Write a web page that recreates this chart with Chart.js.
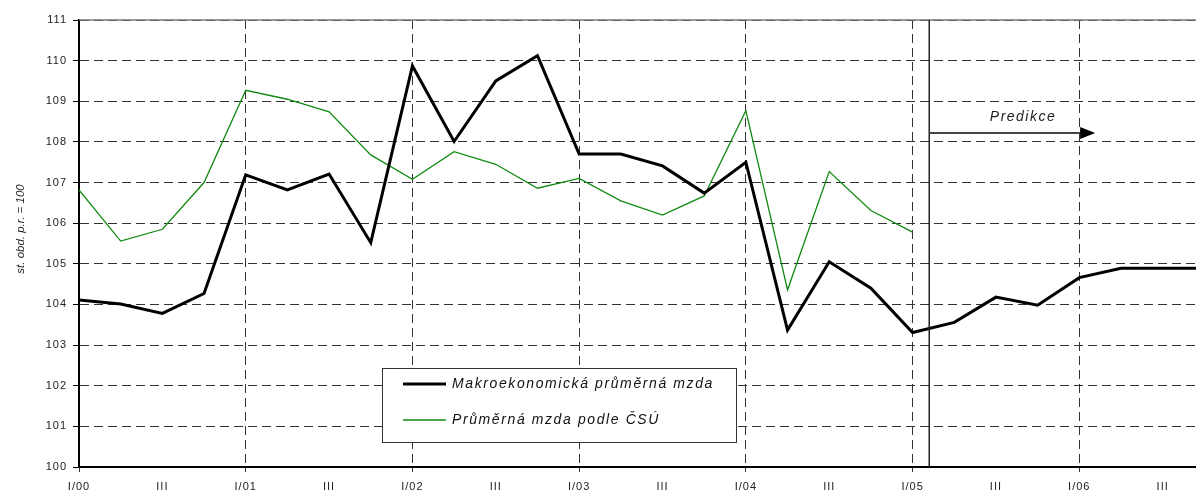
<!DOCTYPE html>
<html lang="cs">
<head>
  <meta charset="UTF-8" />
  <title>Průměrná mzda</title>
  <script src="https://cdn.jsdelivr.net/npm/chart.js"></script>
  <style>
    html, body { margin: 0; padding: 0; background: #fff; }
    #wrap { width: 1196px; height: 492px; }
  </style>
</head>
<body>
  <div id="wrap"><canvas id="graf" width="1196" height="492"></canvas></div>

  <script>
    // ctvrtleti I/00 .. IV/06 (index 0..27)
    const xTickLabels = ['I/00', 'III', 'I/01', 'III', 'I/02', 'III', 'I/03', 'III',
                         'I/04', 'III', 'I/05', 'III', 'I/06', 'III'];

    // Makroekonomicka prumerna mzda (vcetne predikce)
    const mzdaMakro = [104.11, 104.01, 103.78, 104.27, 107.19, 106.82, 107.21, 105.52,
                       109.87, 108.01, 109.50, 110.12, 107.70, 107.70, 107.41, 106.74,
                       107.50, 103.37, 105.05, 104.40, 103.31, 103.56, 104.18, 103.98,
                       104.66, 104.89, 104.89, 104.89];

    // Prumerna mzda podle CSU
    const mzdaCSU = [106.82, 105.56, 105.85, 107.00, 109.27, 109.05, 108.74, 107.68,
                     107.08, 107.76, 107.45, 106.86, 107.10, 106.55, 106.20, 106.67,
                     108.77, 104.36, 107.27, 106.31, 105.78];

    const seriesNames = ['Makroekonomická průměrná mzda', 'Průměrná mzda podle ČSÚ'];
    const yTitle = 'st. obd. p.r. = 100';
    const predikceLabel = 'Predikce';
    const predikceStart = 20.4;   // hranice predikce (ctvrtleti)
    const predikceEnd = 24.38;
    const predikceLevel = 108.22;

    const toPoints = arr => arr.map((v, i) => ({ x: i, y: v }));

    // vlastni kresleni: horni linka, svisla hranice, sipka, legenda, popisek osy
    const doplnky = {
      id: 'doplnky',
      beforeDraw(chart) {
        chart.ctx.letterSpacing = '1px';
      },
      afterDatasetsDraw(chart) {
        const { ctx, chartArea: a, scales: { x, y } } = chart;
        ctx.save();
        ctx.letterSpacing = '0px';

        // horni okraj
        ctx.strokeStyle = '#777';
        ctx.lineWidth = 1.5;
        ctx.beginPath();
        ctx.moveTo(a.left, y.getPixelForValue(111));
        ctx.lineTo(a.right, y.getPixelForValue(111));
        ctx.stroke();

        // hranice predikce
        const px = x.getPixelForValue(predikceStart);
        ctx.strokeStyle = '#222';
        ctx.lineWidth = 1.5;
        ctx.beginPath();
        ctx.moveTo(px, a.top);
        ctx.lineTo(px, a.bottom);
        ctx.stroke();

        // sipka
        const ay = y.getPixelForValue(predikceLevel);
        const ax = x.getPixelForValue(predikceEnd);
        ctx.strokeStyle = '#444';
        ctx.lineWidth = 2;
        ctx.beginPath();
        ctx.moveTo(px, ay);
        ctx.lineTo(ax - 14, ay);
        ctx.stroke();
        ctx.fillStyle = '#000';
        ctx.beginPath();
        ctx.moveTo(ax - 15, ay - 6);
        ctx.lineTo(ax, ay);
        ctx.lineTo(ax - 15, ay + 6);
        ctx.closePath();
        ctx.fill();

        ctx.font = 'italic 14px "Liberation Sans", Arial, sans-serif';
        ctx.letterSpacing = '1.5px';
        ctx.fillStyle = '#222';
        ctx.textAlign = 'center';
        ctx.textBaseline = 'alphabetic';
        ctx.fillText(predikceLabel, x.getPixelForValue(22.65), y.getPixelForValue(108.51));

        // legenda
        ctx.fillStyle = '#fff';
        ctx.fillRect(382, 368, 354, 74);
        ctx.strokeStyle = '#333';
        ctx.lineWidth = 1;
        ctx.strokeRect(382.5, 368.5, 354, 74);
        const ds = chart.data.datasets;
        [384, 420].forEach((ly, i) => {
          ctx.strokeStyle = ds[i].borderColor;
          ctx.lineWidth = ds[i].borderWidth;
          ctx.beginPath();
          ctx.moveTo(403, ly);
          ctx.lineTo(446, ly);
          ctx.stroke();
          ctx.fillStyle = '#111';
          ctx.textAlign = 'left';
          ctx.textBaseline = 'middle';
          ctx.letterSpacing = '1.6px';
          ctx.fillText(seriesNames[i], 452, ly);
        });

        // popisek osy y
        ctx.letterSpacing = '0px';
        ctx.font = 'italic 11.5px "Liberation Sans", Arial, sans-serif';
        ctx.translate(21, 229);
        ctx.rotate(-Math.PI / 2);
        ctx.textAlign = 'center';
        ctx.textBaseline = 'middle';
        ctx.fillStyle = '#222';
        ctx.fillText(yTitle, 0, 0);
        ctx.restore();
      },
      afterDraw(chart) {
        chart.ctx.letterSpacing = '0px';
      }
    };

    const tickFont = { family: '"Liberation Sans", Arial, sans-serif', size: 11 };

    new Chart(document.getElementById('graf'), {
      type: 'line',
      data: {
        datasets: [{
          label: seriesNames[0],
          data: toPoints(mzdaMakro),
          borderColor: '#000',
          borderWidth: 3,
          pointRadius: 0,
          tension: 0
        }, {
          label: seriesNames[1],
          data: toPoints(mzdaCSU),
          borderColor: '#118a11',
          borderWidth: 1.3,
          pointRadius: 0,
          tension: 0
        }]
      },
      options: {
        responsive: false,
        animation: false,
        layout: { padding: { top: 20, left: 0, right: 0, bottom: 0 } },
        plugins: {
          legend: { display: false },
          tooltip: { enabled: false }
        },
        scales: {
          x: {
            type: 'linear',
            min: 0,
            max: 26.8,
            afterFit: s => { s.height = 25; },
            ticks: {
              stepSize: 2,
              includeBounds: false,
              autoSkip: false,
              maxRotation: 0,
              color: '#222',
              font: tickFont,
              padding: 8,
              callback: v => xTickLabels[v / 2] || ''
            },
            grid: {
              color: c => (c.tick && c.tick.value % 4 === 0) ? '#333' : 'rgba(0,0,0,0)',
              lineWidth: 1,
              tickLength: 5,
              tickBorderDash: []
            },
            border: { display: true, color: '#000', width: 2, dash: [9, 5] }
          },
          y: {
            min: 100,
            max: 111,
            afterFit: s => { s.width = 79; },
            ticks: {
              stepSize: 1,
              color: '#222',
              font: tickFont,
              padding: 6
            },
            grid: {
              color: '#333',
              lineWidth: 1,
              tickLength: 6,
              tickColor: '#000',
              tickBorderDash: []
            },
            border: { display: true, color: '#000', width: 2, dash: [9, 5] }
          }
        }
      },
      plugins: [doplnky]
    });
  </script>
</body>
</html>
